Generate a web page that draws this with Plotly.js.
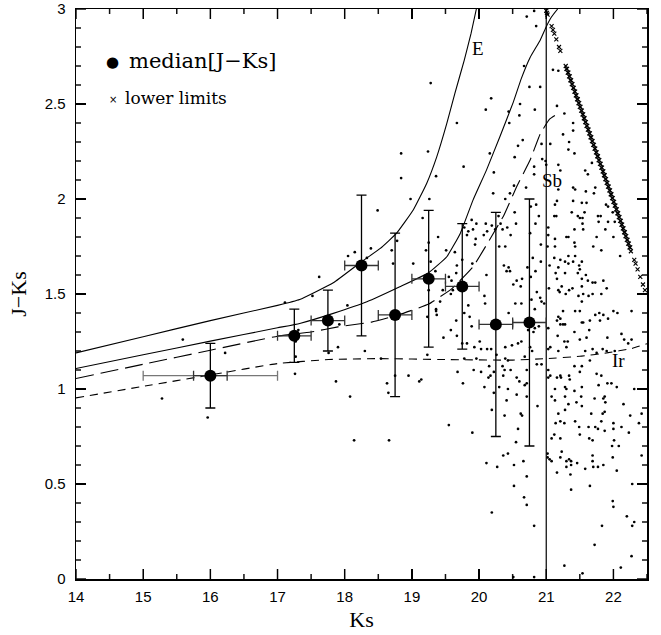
<!DOCTYPE html>
<html>
<head>
<meta charset="utf-8">
<script src="https://cdn.plot.ly/plotly-3.0.1.min.js"></script>
<style>html,body{margin:0;padding:0;background:#fff;}#chart{width:661px;height:635px;}</style>
</head>
<body>
<div id="chart"></div>
<script>
// ---------- data ----------
// individual galaxies (Ks, J-Ks)
const dotKs = [
15.28,15.59,15.96,16.22,17.11,17.26,17.27,17.27,17.31,17.52,17.62,17.76,17.87,17.90,17.92,18.04,18.08,18.14,18.30,18.05,18.15,18.33,18.39,18.49,
20.10,20.44,20.45,19.67,18.84,19.24,18.84,20.16,19.77,19.36,20.22,20.53,20.52,18.98,19.26,20.21,20.39,20.46,19.16,19.39,18.78,18.70,19.25,19.21,19.51,19.64,
19.89,19.96,20.10,20.19,19.78,19.82,19.84,19.91,19.95,19.94,20.07,20.12,20.24,20.29,20.35,20.42,20.47,20.32,20.30,20.39,20.53,19.75,
19.28,20.18,20.67,20.75,20.91,21.10,21.18,20.71,20.82,20.85,
20.61,20.83,21.16,20.60,21.27,21.40,21.40,21.25,20.65,20.58,20.93,21.06,21.34,21.33,21.42,20.94,20.99,21.00,21.18,21.68,20.82,21.21,21.58,21.62,20.82,
20.70,21.18,21.40,21.43,21.73,21.59,21.71,21.40,21.53,21.60,21.13,21.16,20.85,21.89,21.92,20.77,21.57,21.38,21.47,21.50,21.54,21.12,21.15,20.89,21.77,
21.81,21.99,22.02,21.78,21.92,21.54,20.84,20.55,21.03,21.42,21.55,21.88,20.76,21.03,21.30,21.33,21.75,22.00,21.13,21.42,21.70,21.82,20.92,21.02,21.13,
21.43,20.80,21.12,21.21,21.33,21.43,22.10,
18.72,19.02,19.28,19.67,19.66,19.90,19.55,19.59,20.11,20.37,20.44,20.41,20.46,20.51,19.35,19.46,19.58,19.61,19.25,19.42,19.36,19.36,19.37,19.23,20.08,
20.09,19.84,19.78,19.86,19.66,19.89,20.44,19.58,19.67,19.47,20.01,19.75,19.82,19.93,20.03,20.12,20.18,20.39,20.49,20.26,20.39,20.43,19.96,19.78,19.23,
18.54,20.15,19.92,20.03,20.22,20.35,20.38,20.36,20.47,19.68,20.14,20.17,18.75,18.95,18.63,19.14,19.11,19.76,20.30,20.08,20.43,20.22,18.65,20.41,20.19,20.38,
20.92,21.05,21.18,21.28,21.33,21.40,21.53,21.49,21.50,20.56,20.64,20.72,20.77,20.84,21.14,21.28,21.47,21.59,21.16,21.53,21.62,21.69,21.73,21.85,20.62,
21.04,21.23,21.53,21.90,21.20,21.18,21.29,21.34,21.39,21.48,21.55,21.63,21.69,21.82,20.86,20.91,20.93,20.97,20.54,20.63,20.78,20.83,21.53,21.25,21.43,
21.50,21.73,21.79,21.85,22.00,22.06,22.27,21.18,21.21,21.16,21.53,21.55,21.65,21.80,21.92,21.21,21.25,21.28,21.64,21.42,20.83,20.89,20.81,20.73,21.03,
22.12,21.17,21.27,21.32,21.50,21.60,21.91,22.16,22.27,22.22,20.58,20.63,20.76,20.79,21.06,21.03,21.18,21.30,21.58,21.69,21.75,21.84,21.90,22.02,20.68,
20.93,20.86,21.42,21.53,21.65,20.71,21.03,21.06,21.03,21.21,21.22,21.16,21.34,21.35,21.50,21.75,21.82,21.91,21.97,22.05,22.31,20.56,20.60,20.68,20.71,
21.13,21.28,21.30,21.42,21.53,21.78,20.56,20.71,21.08,21.13,21.28,21.33,21.28,21.45,21.52,21.53,21.72,21.85,21.87,21.88,21.84,21.87,21.67,22.15,22.42,
22.25,21.18,20.62,20.64,20.87,
18.66,19.55,19.90,20.11,20.27,20.36,20.43,20.52,20.52,20.19,
20.58,20.55,20.66,20.71,20.67,20.71,20.82,20.82,21.14,21.21,21.27,21.43,21.49,21.63,21.73,21.77,21.82,21.87,22.00,22.00,22.12,22.38,21.08,21.12,21.21,
21.50,21.64,21.69,22.01,22.23,22.08,21.98,21.02,21.02,21.05,21.08,21.23,21.21,21.34,21.37,21.37,21.30,21.30,21.46,21.69,21.69,21.70,21.77,21.85,21.99,
21.58,21.16,21.36,22.05,22.42,22.28,21.65,21.37,21.99,22.00,22.20,22.31,22.28,21.83,21.72,22.27,22.11,21.27,21.54,20.51
];
const dotJK = [
0.95,1.26,0.85,1.19,1.455,1.08,1.17,1.25,1.31,1.49,1.59,1.19,1.04,1.22,1.34,1.44,0.96,0.73,1.20,1.70,1.72,1.69,1.74,1.94,
2.47,2.46,2.40,2.40,2.24,2.25,2.11,2.24,2.17,2.12,2.14,2.22,2.07,2.00,2.00,2.03,2.00,2.03,1.90,1.80,1.78,1.73,1.77,1.73,1.73,1.72,
1.89,1.87,1.87,1.86,1.85,1.81,1.83,1.84,1.79,1.76,1.81,1.83,1.84,1.91,1.84,1.85,1.81,1.87,1.75,1.75,1.93,1.68,
2.61,2.53,2.70,2.59,2.59,2.68,2.675,2.96,2.99,2.91,
2.50,2.47,2.49,2.44,2.45,2.40,2.36,2.34,2.31,2.28,2.29,2.29,2.30,2.26,2.24,2.21,2.20,2.18,2.18,2.19,2.17,2.15,2.15,2.13,2.13,
2.06,2.05,2.06,2.05,2.06,2.04,2.03,1.99,1.98,1.98,1.97,1.99,1.97,1.97,1.96,1.96,1.93,1.93,1.91,1.90,1.90,1.91,1.91,1.91,1.91,
1.91,1.93,1.88,1.88,1.88,1.87,1.87,1.87,1.85,1.84,1.84,1.84,1.82,1.81,1.80,1.80,1.80,1.80,1.79,1.77,1.75,1.73,1.76,1.75,1.75,
1.75,1.69,1.69,1.68,1.70,1.70,1.70,
1.66,1.66,1.67,1.65,1.61,1.66,1.59,1.57,1.60,1.65,1.64,1.62,1.62,1.55,1.62,1.52,1.50,1.52,1.52,1.46,1.42,1.41,1.39,1.38,1.49,
1.45,1.44,1.40,1.38,1.36,1.33,1.40,1.31,1.28,1.27,1.25,1.24,1.24,1.22,1.21,1.21,1.21,1.22,1.23,1.18,1.16,1.15,1.16,1.16,1.18,
1.16,1.12,1.10,1.09,1.09,1.12,1.10,1.07,1.10,1.09,1.06,1.07,1.07,1.07,1.03,1.05,1.04,1.03,1.01,1.01,1.00,0.98,0.98,0.94,0.89,0.86,
1.67,1.65,1.64,1.67,1.66,1.67,1.67,1.65,1.63,1.57,1.58,1.64,1.59,1.62,1.61,1.61,1.61,1.60,1.58,1.58,1.57,1.56,1.56,1.57,1.54,
1.53,1.54,1.54,1.53,1.51,1.52,1.50,1.52,1.53,1.49,1.50,1.49,1.50,1.50,1.51,1.48,1.46,1.45,1.45,1.45,1.47,1.42,1.46,1.41,1.41,
1.41,1.39,1.40,1.39,1.41,1.40,1.41,1.38,1.37,1.36,1.35,1.35,1.36,1.36,1.37,1.34,1.34,1.34,1.31,1.30,1.32,1.33,1.30,1.31,1.32,
1.29,1.28,1.25,1.25,1.26,1.27,1.27,1.26,1.26,1.24,1.24,1.25,1.22,1.20,1.22,1.21,1.20,1.22,1.20,1.21,1.19,1.21,1.20,1.20,1.17,
1.13,1.13,1.12,1.12,1.15,1.10,1.10,1.07,1.06,1.07,1.06,1.06,1.07,1.05,1.09,1.08,1.07,1.03,1.03,1.01,1.00,1.06,1.04,1.02,1.03,
1.00,1.01,1.00,0.99,1.01,1.02,0.97,0.96,0.96,0.94,0.96,0.92,0.89,0.93,0.96,0.91,0.95,0.95,0.96,0.93,0.87,0.88,0.87,0.92,0.87,
0.86,0.87,0.87,0.86,0.91,
0.73,0.81,0.77,0.61,0.59,0.65,0.66,0.60,0.49,0.35,
0.79,0.72,0.62,0.54,0.43,0.39,0.28,0.01,0.82,0.83,0.82,0.83,0.80,0.80,0.80,0.79,0.83,0.78,0.82,0.79,0.80,0.82,0.74,0.76,0.74,
0.76,0.74,0.73,0.73,0.77,0.70,0.70,0.66,0.64,0.63,0.62,0.67,0.64,0.63,0.62,0.60,0.62,0.59,0.61,0.65,0.62,0.59,0.59,0.60,0.64,
0.58,0.56,0.55,0.57,0.65,0.50,0.49,0.47,0.41,0.38,0.33,0.30,0.28,0.28,0.18,0.12,0.06,0.07,0.03,0.01
];

// lower limits in J-Ks (undetected in J)
const limKs = [21.00,21.01,21.02,21.08,21.10,21.12,21.15,21.19,21.21,
21.29,21.30,21.31,21.32,21.33,21.34,21.35,21.36,21.37,21.38,21.39,21.40,21.41,21.42,21.43,21.44,21.45,21.46,21.47,21.48,
21.49,21.50,21.51,21.52,21.53,21.54,21.55,21.56,21.57,21.58,21.59,21.60,21.61,21.62,21.63,21.64,21.65,21.66,21.67,21.68,
21.69,21.70,21.71,21.72,21.73,21.74,21.75,21.76,21.77,21.78,21.79,21.80,21.81,21.82,21.83,21.84,21.85,21.86,21.87,21.88,
21.89,21.90,21.91,21.92,21.93,21.94,21.95,21.96,21.97,21.98,21.99,22.00,22.01,22.02,22.03,22.04,22.05,22.06,22.07,22.08,
22.09,22.10,22.11,22.12,22.13,22.14,22.15,22.16,22.17,22.18,22.19,22.20,22.21,22.22,22.23,22.24,22.25,22.26,
22.31,22.33,22.36,22.40,22.44,22.47];
const limJK = [2.99,2.98,2.97,2.91,2.89,2.87,2.84,2.80,2.78,
2.70,2.685,2.685,2.665,2.665,2.645,2.645,2.625,2.625,2.605,2.605,2.585,2.585,2.565,2.565,2.545,2.545,2.525,2.525,2.505,
2.505,2.485,2.485,2.465,2.465,2.445,2.445,2.425,2.425,2.405,2.405,2.385,2.385,2.365,2.365,2.345,2.345,2.325,2.325,2.305,
2.305,2.285,2.285,2.265,2.265,2.245,2.245,2.225,2.225,2.205,2.205,2.185,2.185,2.165,2.165,2.145,2.145,2.125,2.125,2.105,
2.105,2.085,2.085,2.065,2.065,2.045,2.045,2.025,2.025,2.005,2.005,1.985,1.985,1.965,1.965,1.945,1.945,1.925,1.925,1.905,
1.905,1.885,1.885,1.865,1.865,1.845,1.845,1.825,1.825,1.805,1.805,1.785,1.785,1.765,1.765,1.745,1.745,1.725,
1.68,1.66,1.63,1.59,1.55,1.52];

// median J-Ks per Ks bin
const medKs   = [16.0, 17.25, 17.75, 18.25, 18.75, 19.25, 19.75, 20.25, 20.75];
const medJK   = [1.07, 1.28, 1.36, 1.65, 1.39, 1.58, 1.54, 1.34, 1.35];
const medHiJK = [1.24, 1.42, 1.52, 2.02, 1.82, 1.94, 1.87, 1.93, 2.00];
const medLoJK = [0.90, 1.14, 1.20, 1.28, 0.96, 1.22, 1.21, 0.75, 0.70];
const binHalf = [0.25, 0.25, 0.25, 0.25, 0.25, 0.25, 0.25, 0.25, 0.25];
// wide first bin
const wideKs = [16.0], wideJK = [1.07], wideLo = [15.0], wideHi = [17.0];

// model tracks
const eKs  = [14, 15, 16, 17, 17.33, 17.83, 18.25, 18.53, 18.77, 19.02, 19.22, 19.37, 19.52, 19.64, 19.78, 19.88, 19.96];
const eJK  = [1.19, 1.275, 1.36, 1.44, 1.471, 1.559, 1.67, 1.74, 1.819, 1.942, 2.082, 2.222, 2.398, 2.556, 2.731, 2.87, 3.0];
const saKs = [14, 15, 16, 17, 17.33, 17.83, 18.33, 18.82, 19.25, 19.52, 19.72, 19.91, 20.11, 20.31, 20.51, 20.63, 20.76, 20.91, 21.0, 21.08, 21.17];
const saJK = [1.108, 1.18, 1.252, 1.322, 1.345, 1.398, 1.459, 1.538, 1.612, 1.696, 1.819, 1.994, 2.152, 2.328, 2.51, 2.635, 2.745, 2.836, 2.907, 2.959, 3.0];
const sbKs = [14, 15, 16, 17, 17.5, 17.9, 18.4, 18.8, 19.25, 19.6, 19.91, 20.19, 20.37, 20.56, 20.76, 20.91, 21.05, 21.2];
const sbJK = [1.055, 1.13, 1.204, 1.278, 1.30, 1.327, 1.352, 1.39, 1.447, 1.53, 1.643, 1.805, 1.915, 2.065, 2.205, 2.342, 2.42, 2.455];
const irKs = [14, 15, 16, 17, 17.76, 18.5, 19.5, 20.5, 21.0, 21.5, 21.9, 22.27, 22.5];
const irJK = [0.953, 1.014, 1.074, 1.134, 1.155, 1.16, 1.155, 1.152, 1.16, 1.172, 1.19, 1.213, 1.238];

const ksLimit = 21;
const trackLabels = [{t:'E', x:19.99, y:2.79}, {t:'Sb', x:21.08, y:2.10}, {t:'Ir', x:22.08, y:1.15}];
const xTickVals = [14, 15, 16, 17, 18, 19, 20, 21, 22];
const yTickVals = [0, 0.5, 1, 1.5, 2, 2.5, 3];
const xRange = [14, 22.5], yRange = [0, 3];

// ---------- geometry ----------
const W = 661, H = 635, M = {l:76, r:14, t:9, b:56};
const pxPerX = (W - M.l - M.r) / (xRange[1] - xRange[0]);
const pxPerY = (H - M.t - M.b) / (yRange[1] - yRange[0]);

// inside tick marks on all four sides, built from the tick values
const tickX = [], tickY = [];
function seg(x0, y0, x1, y1) { tickX.push(x0, x1, null); tickY.push(y0, y1, null); }
xTickVals.forEach(v => {
  [[v, 10], [v + 0.5, 5]].forEach(([p, len]) => {
    if (p > xRange[1] + 1e-9) return;
    const d = len / pxPerY;
    seg(p, yRange[0], p, yRange[0] + d);
    seg(p, yRange[1], p, yRange[1] - d);
  });
});
yTickVals.forEach(v => {
  for (let j = 0; j < 5; j++) {
    const p = +(v + j * 0.1).toFixed(2);
    if (p > yRange[1] + 1e-9) break;
    const d = (j === 0 ? 10 : 5) / pxPerX;
    seg(xRange[0], p, xRange[0] + d, p);
    seg(xRange[1], p, xRange[1] - d, p);
  }
});

// ---------- traces ----------
const line = (x, y, dash) => ({x, y, type:'scatter', mode:'lines', hoverinfo:'skip',
  line:{color:'#000', width:1.1, dash:dash, shape:'spline', smoothing:0.35}, showlegend:false});

const traces = [
  {x:tickX, y:tickY, type:'scatter', mode:'lines', showlegend:false, line:{color:'#111', width:1.5}},
  {x:dotKs, y:dotJK, type:'scatter', mode:'markers', showlegend:false,
   marker:{symbol:'circle', size:2.7, color:'#000'}},
  {x:limKs, y:limJK, type:'scatter', mode:'markers', showlegend:false,
   marker:{symbol:'x-thin', size:4, color:'#000', line:{color:'#000', width:1.1}}},
  line(eKs, eJK, 'solid'),
  line(saKs, saJK, 'solid'),
  line(sbKs, sbJK, '18px,7px'),
  line(irKs, irJK, '8px,6px'),
  {x:[ksLimit, ksLimit], y:yRange, type:'scatter', mode:'lines', showlegend:false, hoverinfo:'skip',
   line:{color:'#000', width:1.2}},
  {x:wideKs, y:wideJK, type:'scatter', mode:'markers', showlegend:false,
   marker:{size:2, color:'rgba(0,0,0,0)'},
   error_x:{type:'data', symmetric:false,
     array:wideHi.map((h,i)=>h-wideKs[i]), arrayminus:wideKs.map((k,i)=>k-wideLo[i]),
     color:'#777', thickness:1.3, width:5}},
  {x:medKs, y:medJK, type:'scatter', mode:'markers', showlegend:false,
   marker:{symbol:'circle', size:12, color:'#000'},
   error_x:{type:'data', array:binHalf, color:'#333', thickness:1.3, width:5},
   error_y:{type:'data', symmetric:false,
     array:medHiJK.map((h,i)=>h-medJK[i]), arrayminus:medJK.map((m,i)=>m-medLoJK[i]),
     color:'#000', thickness:1.3, width:5}}
];

const serif = 'Liberation Serif';
const annotations = trackLabels.map(l => ({x:l.x, y:l.y, xref:'x', yref:'y', text:l.t, showarrow:false,
  font:{family:serif, size:19, color:'#000'}}));
annotations.push(
  {xref:'paper', yref:'paper', x:0.0645, y:0.907, text:'●', showarrow:false, xanchor:'center', yanchor:'middle',
   font:{family:'DejaVu Sans', size:15, color:'#000'}},
  {xref:'paper', yref:'paper', x:0.089, y:0.909, text:'median[J−Ks]', showarrow:false, xanchor:'left', yanchor:'middle',
   font:{family:'DejaVu Serif', size:21, color:'#000'}},
  {xref:'paper', yref:'paper', x:0.0645, y:0.842, text:'×', showarrow:false, xanchor:'center', yanchor:'middle',
   font:{family:'DejaVu Sans', size:10, color:'#000'}},
  {xref:'paper', yref:'paper', x:0.083, y:0.843, text:'lower limits', showarrow:false, xanchor:'left', yanchor:'middle',
   font:{family:'DejaVu Serif', size:17, color:'#000'}}
);

const axisCommon = {showgrid:false, zeroline:false, showline:true, linecolor:'#000', linewidth:1.5,
  mirror:'ticks', ticks:'inside', ticklen:10, tickwidth:1.3, tickcolor:'#000',
  tickfont:{family:'Liberation Sans', size:15, color:'#000'}};

const layout = {
  width:W, height:H,
  margin:M,
  showlegend:false,
  xaxis:Object.assign({}, axisCommon, {range:xRange, tickmode:'array', tickvals:xTickVals, ticklabelstandoff:3,
    title:{text:'Ks', font:{family:serif, size:22, color:'#000'}, standoff:8}}),
  yaxis:Object.assign({}, axisCommon, {range:yRange, tickmode:'array', tickvals:yTickVals, ticklabelstandoff:6,
    title:{text:'J−Ks', font:{family:serif, size:22, color:'#000'}, standoff:12}}),
  annotations:annotations
};

Plotly.newPlot('chart', traces, layout, {staticPlot:true, displayModeBar:false});
</script>
</body>
</html>
